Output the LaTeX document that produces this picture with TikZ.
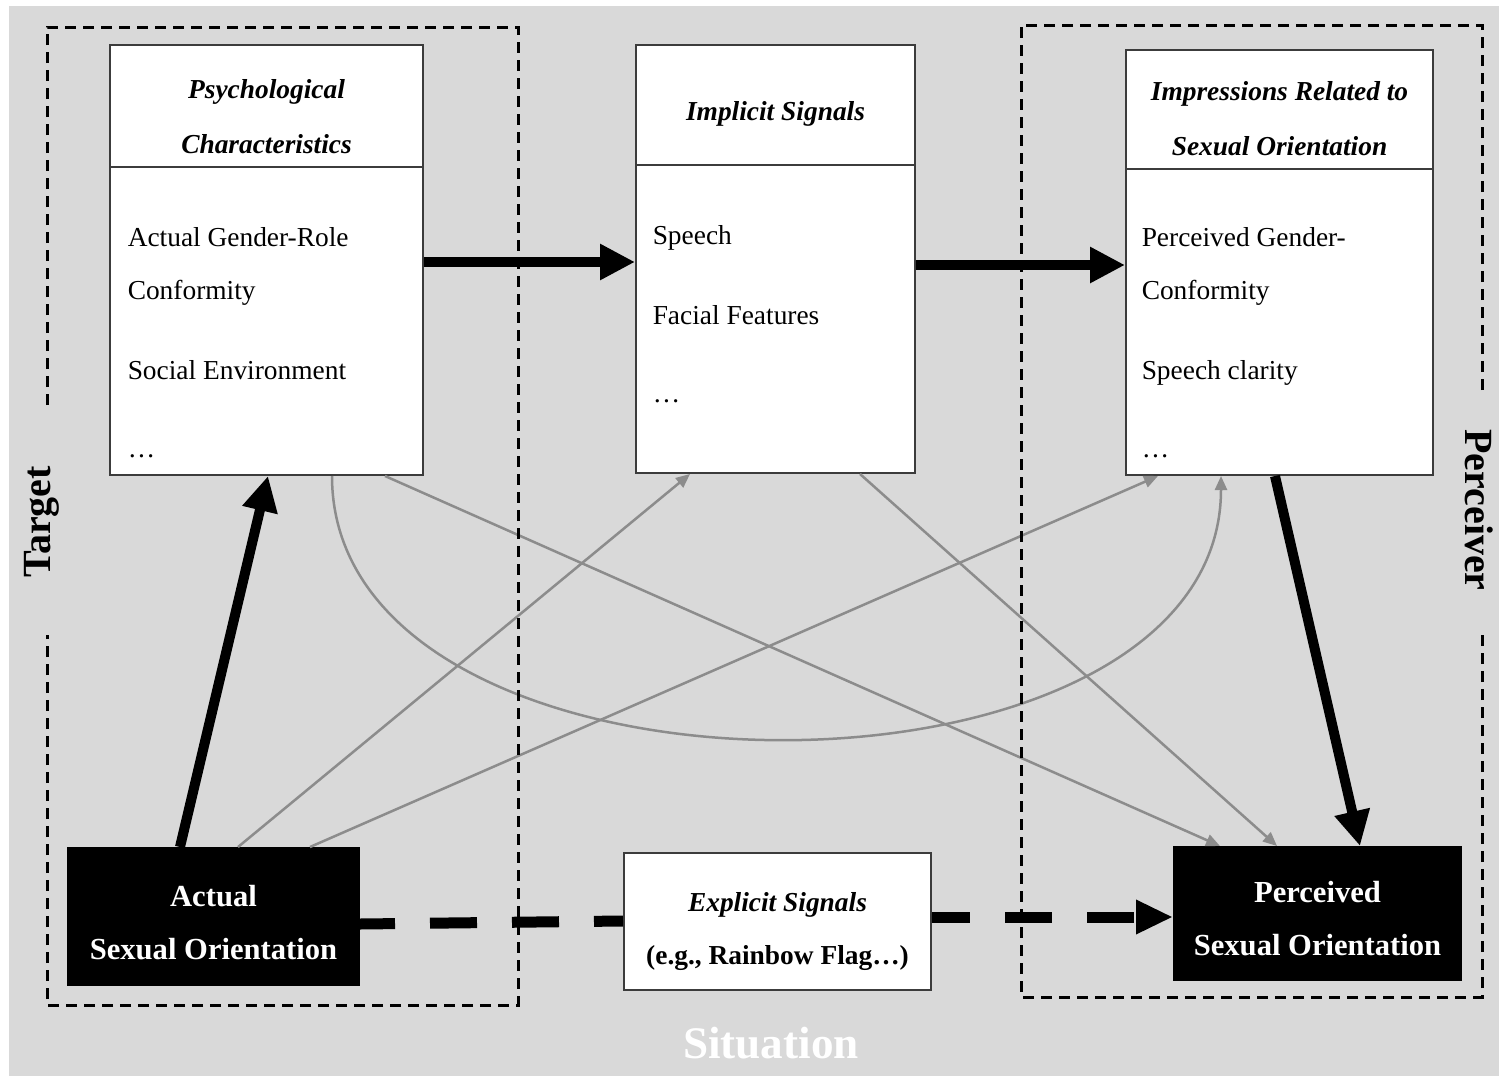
\documentclass[tikz,border=0pt]{standalone}
\usepackage{fontspec}
\setmainfont{Liberation Serif}
\usetikzlibrary{arrows.meta}

\definecolor{bgGray}{RGB}{217,217,217}
\definecolor{linkGray}{RGB}{140,140,140}
\definecolor{edgeGray}{RGB}{60,60,60}

\tikzset{every picture/.style={line width=0.75pt}}

\begin{document}
\begin{tikzpicture}[x=0.5pt,y=0.5pt,yscale=-1,xscale=1,
  whitebox/.style={draw=edgeGray, line width=1pt, fill=white, inner sep=0pt},
  blackbox/.style={draw=black, line width=1pt, fill=black, inner sep=0pt},
  headtext/.style={font=\fontsize{13.7}{27.5}\selectfont\bfseries\itshape, align=center, inner sep=0pt},
  bodytext/.style={font=\fontsize{13.7}{26.5}\selectfont, align=left, anchor=north west, inner sep=0pt},
  keytext/.style={font=\fontsize{15.3}{26.5}\selectfont\bfseries, text=white, align=center, inner sep=0pt},
  sidetext/.style={font=\fontsize{20}{24}\selectfont\bfseries, inner sep=0pt},
  thickarrow/.style={line width=5pt, -{Triangle[length=17.5pt,width=17pt]}},
  thinarrow/.style={draw=linkGray, line width=1.25pt, -{Triangle[length=7pt,width=6pt]}},
  dashedarrow/.style={line width=5.5pt, dash pattern=on 23.5pt off 17.5pt},
  groupline/.style={line width=1.5pt, dash pattern=on 5.5pt off 3.5pt}
]
\useasboundingbox (0,0) rectangle (1499,1076);

%Shape: Rectangle (background)
\fill[bgGray] (9,6) rectangle (1499,1076);

%Shape: Rectangle (upper boxes)
\node[whitebox, minimum width=156.5pt, minimum height=215pt] (psych) at (266.5,260) {};
\node[whitebox, minimum width=139.5pt, minimum height=214pt] (implicit) at (775.5,259) {};
\node[whitebox, minimum width=153.5pt, minimum height=212.5pt] (impressions) at (1279.5,262.5) {};
%Straight Lines (header dividers)
\draw[draw=edgeGray, line width=1pt] (psych.west |- 0,167) -- (psych.east |- 0,167);
\draw[draw=edgeGray, line width=1pt] (implicit.west |- 0,165) -- (implicit.east |- 0,165);
\draw[draw=edgeGray, line width=1pt] (impressions.west |- 0,169) -- (impressions.east |- 0,169);

%Shape: Rectangle (lower boxes)
\node[blackbox, minimum width=145.5pt, minimum height=68.5pt] (actual) at (213.5,916.5) {};
\node[whitebox, minimum width=153.5pt, minimum height=68.5pt] (explicit) at (777.5,921.5) {};
\node[blackbox, minimum width=143.5pt, minimum height=66.5pt] (perceived) at (1317.5,913.5) {};

%Text Nodes
\node[headtext] (psychtitle) at (266.5,117) {Psychological\\Characteristics};
\node[headtext] (implicittitle) at (775.5,113.5) {Implicit Signals};
\node[headtext] (impressionstitle) at (1279.5,119) {Impressions Related to\\Sexual Orientation};
\node[bodytext] (psychtext) at (127,227) {Actual Gender-Role\\Conformity\\[13.5pt]Social Environment\\[12.5pt]…};
\node[bodytext] (implicittext) at (652,225) {Speech\\[13.5pt]Facial Features\\[12.5pt]…};
\node[bodytext] (impressionstext) at (1141,227) {Perceived Gender-\\Conformity\\[13.5pt]Speech clarity\\[12.5pt]…};
\node[keytext] (actualtext) at (213.5,923) {Actual\\Sexual Orientation};
\node[headtext, font=\fontsize{13.7}{26.5}\selectfont] (explicittext) at (777.5,932) {\textbf{\textit{Explicit Signals}}\\\textbf{(e.g., Rainbow Flag…)}};
\node[keytext] (perceivedtext) at (1317.5,918.5) {Perceived\\Sexual Orientation};
\node[sidetext, rotate=90] (target) at (42,522) {Target};
\node[sidetext, rotate=-90] (perceiver) at (1479,510) {Perceiver};
\node[sidetext, font=\fontsize{22.6}{26}\selectfont\bfseries, text=white] (situation) at (771,1043) {Situation};

%Straight Lines (grey links)
\draw[thinarrow] (actual.north -| 238,0) -- (implicit.south -| 690,0);
\draw[thinarrow] (actual.north -| 310,0) -- (impressions.south -| 1158,0);
\draw[thinarrow] (psych.south -| 385,0) -- (perceived.north -| 1220,0);
\draw[thinarrow] (implicit.south -| 860,0) -- (perceived.north -| 1277,0);
%Curve Lines
\draw[thinarrow] (psych.south -| 332,0) .. controls +(0,350) and +(0,350) .. (impressions.south -| 1221,0);

%Straight Lines (group borders)
\draw[groupline] (47,405) -- (47,27) -- (518,27) -- (518,1005) -- (47,1005) -- (47,635);
\draw[groupline] (1482,390) -- (1482,25) -- (1021,25) -- (1021,997) -- (1482,997) -- (1482,632);

%Straight Lines (main paths)
\draw[thickarrow] (psych.east |- 0,262) -- (implicit.west |- 0,262);
\draw[thickarrow] (implicit.east |- 0,265) -- (impressions.west |- 0,265);
\draw[thickarrow] (actual.north -| 180,0) -- (psych.south -| 268,0);
\draw[thickarrow] (impressions.south -| 1275,0) -- (perceived.north -| 1360,0);
\draw[dashedarrow, dash phase=6pt] (actual.east |- 0,924) -- (explicit.west |- 0,921);
\draw[dashedarrow, dash phase=4.5pt, -{Triangle[length=18.5pt,width=16pt]}] (explicit.east |- 0,917) -- (perceived.west |- 0,917);

\end{tikzpicture}
\end{document}
